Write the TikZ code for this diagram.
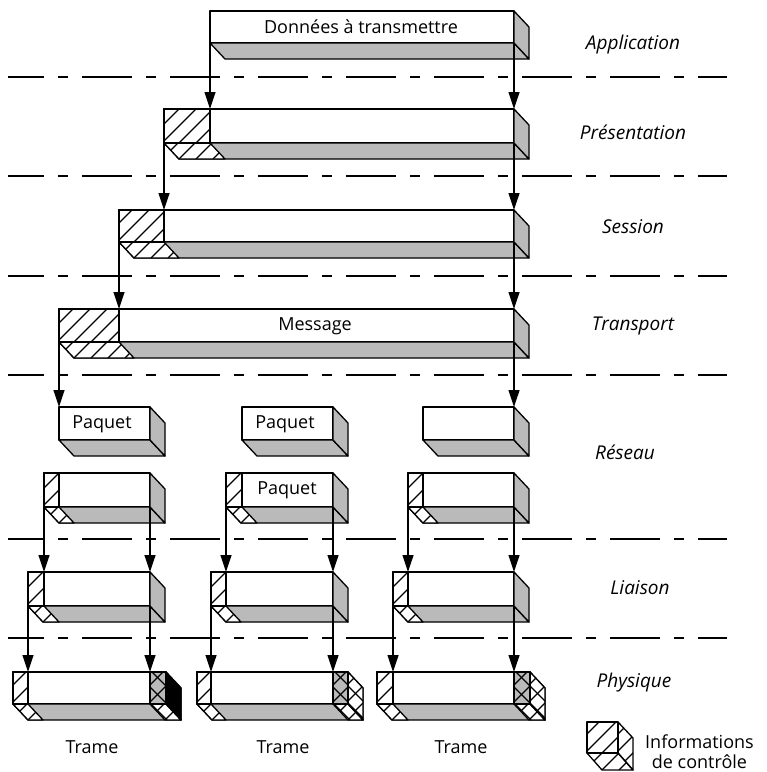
\documentclass[tikz,border=0pt]{standalone}
\usepackage{fontspec}
\setmainfont{Open Sans}
\usetikzlibrary{arrows.meta}

% one-unit = one point, y grows downwards
\tikzset{
  outline/.style={draw=black, line width=1.3pt, line join=round},
  gface/.style={fill=black!27},
  hl/.style={line width=1.1pt},
  arr/.style={line width=1.2pt, -{Triangle[length=17pt,width=11pt]}},
  sep/.style={line width=2.8pt, dash pattern=on 50pt off 14pt on 10pt off 14pt, dash phase=14pt},
  lbl/.style={font=\fontsize{18}{20}\selectfont, inner sep=0pt},
  layername/.style={font=\itshape\fontsize{19}{22}\selectfont, inner sep=0pt},
}

% "/" hatching inside a clip path: #1 path, #2 xmin, #3 xmax, #4 ymax
\newcommand\hatchNE[4]{%
  \begin{scope}\clip #1;
    \pgfmathtruncatemacro\hsA{#2-70}%
    \pgfmathtruncatemacro\hsB{#2-70+17}%
    \pgfmathtruncatemacro\hsC{#3}%
    \foreach \k in {\hsA,\hsB,...,\hsC}{\draw[hl] (\k,#4) -- ++(80,-80);}
  \end{scope}}
% "\" hatching inside a clip path
\newcommand\hatchNW[4]{%
  \begin{scope}\clip #1;
    \pgfmathtruncatemacro\hsA{#2}%
    \pgfmathtruncatemacro\hsB{#2+17}%
    \pgfmathtruncatemacro\hsC{#3+70}%
    \foreach \k in {\hsA,\hsB,...,\hsC}{\draw[hl] (\k,#4) -- ++(-80,-80);}
  \end{scope}}

% a data block: #1 name, #2 left, #3 right, #4 top, #5 bottom of the front face
\newcommand\slab[5]{%
  \coordinate (#1-tl) at (#2,#4); \coordinate (#1-tr) at (#3,#4);
  \coordinate (#1-bl) at (#2,#5); \coordinate (#1-br) at (#3,#5);
  \filldraw[outline,fill=white] (#2,#4) rectangle (#3,#5);
  \filldraw[outline,gface] (#2,#5) -- (#3,#5) -- (#3+15,#5+16) -- (#2+15,#5+16) -- cycle;
  \filldraw[outline,gface] (#3,#4) -- (#3+15,#4+16) -- (#3+15,#5+16) -- (#3,#5) -- cycle;
}

% hatched control header: #1 left, #2 right, #3 top, #4 bottom
\newcommand\headpart[4]{%
  \fill[white] (#1,#3) rectangle (#2,#4);
  \fill[white] (#1,#4) -- (#2,#4) -- (#2+15,#4+16) -- (#1+15,#4+16) -- cycle;
  \hatchNE{(#1,#3) rectangle (#2,#4)}{#1}{#2}{#4}
  \hatchNE{(#1,#4) -- (#2,#4) -- (#2+15,#4+16) -- (#1+15,#4+16) -- cycle}{#1}{#2+15}{#4+16}
  \draw[outline] (#1,#3) rectangle (#2,#4);
  \draw[outline] (#1,#4) -- (#2,#4) -- (#2+15,#4+16) -- (#1+15,#4+16) -- cycle;
}

% cross-hatched trailer: #1 left, #2 right, #3 top, #4 bottom, #5 side face colour
\newcommand\tailpart[5]{%
  \fill[black!27] (#1,#3) rectangle (#2,#4);
  \fill[white] (#1,#4) -- (#2,#4) -- (#2+15,#4+16) -- (#1+15,#4+16) -- cycle;
  \fill[#5] (#2,#3) -- (#2+15,#3+16) -- (#2+15,#4+16) -- (#2,#4) -- cycle;
  \hatchNE{(#1,#3) rectangle (#2,#4)}{#1}{#2}{#4}
  \hatchNW{(#1,#3) rectangle (#2,#4)}{#1}{#2}{#4}
  \hatchNE{(#1,#4) -- (#2,#4) -- (#2+15,#4+16) -- (#1+15,#4+16) -- cycle}{#1}{#2+15}{#4+16}
  \hatchNW{(#1,#4) -- (#2,#4) -- (#2+15,#4+16) -- (#1+15,#4+16) -- cycle}{#1}{#2+15}{#4+16}
  \hatchNE{(#2,#3) -- (#2+15,#3+16) -- (#2+15,#4+16) -- (#2,#4) -- cycle}{#2}{#2+15}{#4+16}
  \hatchNW{(#2,#3) -- (#2+15,#3+16) -- (#2+15,#4+16) -- (#2,#4) -- cycle}{#2}{#2+15}{#4+16}
  \draw[outline] (#1,#3) rectangle (#2,#4);
  \draw[outline] (#1,#4) -- (#2,#4) -- (#2+15,#4+16) -- (#1+15,#4+16) -- cycle;
  \draw[outline] (#2,#3) -- (#2+15,#3+16) -- (#2+15,#4+16) -- (#2,#4) -- cycle;
}

\begin{document}
\begin{tikzpicture}[x=1pt,y=-1pt]
\useasboundingbox (0,0) rectangle (767,772);
\fill[white] (0,0) rectangle (767,772);

% layer boundaries
\foreach \yy in {77,176,276,375,539,638}
  \draw[sep] (8,\yy) -- (727,\yy);

% layer names
\node[layername] (n-app) at (633,45)  {Application};
\node[layername] (n-pre) at (633,132) {Présentation};
\node[layername] (n-ses) at (633,227) {Session};
\node[layername] (n-tra) at (633,326) {Transport};
\node[layername] (n-res) at (625,452) {Réseau};
\node[layername] (n-lia) at (640,588) {Liaison};
\node[layername] (n-phy) at (634,683) {Physique};

% application
\slab{app}{210}{514}{11}{43}
\node[lbl] (t-app) at (361,27) {Données à transmettre};

% presentation
\slab{pre}{164}{514}{109}{143}
\headpart{164}{210}{109}{143}

% session
\slab{ses}{119}{514}{210}{242}
\headpart{119}{164}{210}{242}

% transport
\slab{tra}{59}{514}{309}{342}
\headpart{59}{119}{309}{342}
\node[lbl] (t-msg) at (315,326) {Message};

% network: packets
\slab{ra}{59}{150}{407}{440}
\slab{rb}{242}{333}{407}{440}
\slab{rc}{423}{514}{407}{440}
\node[lbl] (t-pa) at (102,424) {Paquet};
\node[lbl] (t-pb) at (285,424) {Paquet};

\slab{sa}{44}{150}{473}{507}
\headpart{44}{59}{473}{507}
\slab{sb}{226}{333}{473}{507}
\headpart{226}{242}{473}{507}
\slab{sc}{408}{514}{473}{507}
\headpart{408}{423}{473}{507}
\node[lbl] (t-pc) at (287,490) {Paquet};

% data link
\slab{la}{28}{150}{572}{606}
\headpart{28}{44}{572}{606}
\slab{lb}{211}{333}{572}{606}
\headpart{211}{226}{572}{606}
\slab{lc}{393}{514}{572}{606}
\headpart{393}{408}{572}{606}

% physical
\slab{pa}{13}{166}{672}{704}
\headpart{13}{28}{672}{704}
\tailpart{150}{166}{672}{704}{black}
\slab{pb}{197}{348}{672}{704}
\headpart{197}{211}{672}{704}
\tailpart{333}{348}{672}{704}{white}
\slab{pc}{377}{530}{672}{704}
\headpart{377}{393}{672}{704}
\tailpart{514}{530}{672}{704}{white}

\node[lbl] (t-fa) at (92,747)  {Trame};
\node[lbl] (t-fb) at (283,747) {Trame};
\node[lbl] (t-fc) at (461,747) {Trame};

% encapsulation arrows
\draw[arr] (app-bl) -- (app-bl |- pre-tl);
\draw[arr] (app-br) -- (pre-tr);
\draw[arr] (pre-tl |- pre-bl) -- (pre-tl |- ses-tl);
\draw[arr] (pre-br) -- (ses-tr);
\draw[arr] (ses-bl) -- (ses-bl |- tra-tl);
\draw[arr] (ses-br) -- (tra-tr);
\draw[arr] (tra-bl) -- (ra-tl);
\draw[arr] (tra-br) -- (rc-tr);

\draw[arr] (sa-bl) -- (sa-bl |- la-tl);
\draw[arr] (sa-br) -- (la-tr);
\draw[arr] (sb-bl) -- (sb-bl |- lb-tl);
\draw[arr] (sb-br) -- (lb-tr);
\draw[arr] (sc-bl) -- (sc-bl |- lc-tl);
\draw[arr] (sc-br) -- (lc-tr);

\draw[arr] (la-bl) -- (la-bl |- pa-tl);
\draw[arr] (la-br) -- (la-br |- pa-tl);
\draw[arr] (lb-bl) -- (lb-bl |- pb-tl);
\draw[arr] (lb-br) -- (lb-br |- pb-tl);
\draw[arr] (lc-bl) -- (lc-bl |- pc-tl);
\draw[arr] (lc-br) -- (lc-br |- pc-tl);

% key
\fill[white] (587,722) rectangle (618,753);
\hatchNE{(587,722) rectangle (618,753)}{587}{618}{753}
\hatchNE{(587,753) -- (618,753) -- (633,770) -- (602,770) -- cycle}{587}{633}{770}
\hatchNE{(618,722) -- (633,738) -- (633,770) -- (618,753) -- cycle}{618}{633}{770}
\draw[outline] (587,722) rectangle (618,753);
\draw[outline] (587,753) -- (618,753) -- (633,770) -- (602,770) -- cycle;
\draw[outline] (618,722) -- (633,738) -- (633,770) -- (618,753) -- cycle;
\node[lbl, align=center, anchor=west] (t-key) at (645,752) {Informations\\de contrôle};
\end{tikzpicture}
\end{document}
